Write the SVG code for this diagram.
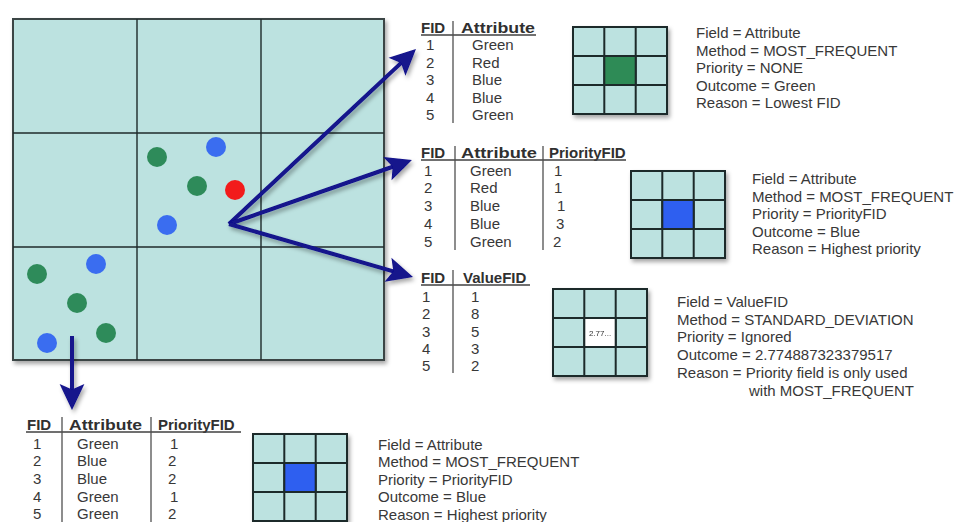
<svg xmlns="http://www.w3.org/2000/svg" xmlns:xlink="http://www.w3.org/1999/xlink" width="956" height="522" viewBox="0 0 956 522">
  <style>
    text { font-family: "Liberation Sans", Arial, sans-serif; font-size: 15px; fill: #383838; }
    .hd { font-weight: bold; fill: #303030; }
    .rule { stroke: #505050; stroke-width: 1.3; fill: none; }
    .uline { stroke: #404040; stroke-width: 1.3; }
    .cellfill { fill: #bce2e0; }
    .gridline { stroke: #1f2b2b; stroke-width: 2; fill: none; }
    .center { stroke: #1f2b2b; stroke-width: 2; }
    .c-green { fill: #2e8b57; }
    .c-blue { fill: #2d5ff0; }
    .c-white { fill: #ffffff; }
    .bigline { stroke: #1f2b2b; stroke-width: 1.4; fill: none; }
    .arrow { stroke: #12128c; stroke-width: 4; fill: none; marker-end: url(#head); }
    .dot-g { fill: #2e8b5a; }
    .dot-b { fill: #3a6df0; }
    .dot-r { fill: #f21b1b; }
  </style>
  <defs>
    <filter id="shadow" x="-10%" y="-10%" width="130%" height="130%">
      <feDropShadow dx="2" dy="3" stdDeviation="2" flood-color="#000" flood-opacity="0.35"/>
    </filter>
    <marker id="head" markerUnits="strokeWidth" markerWidth="6.5" markerHeight="6.2" refX="5" refY="3.1" orient="auto" overflow="visible">
      <path d="M0,0 L6.5,3.1 L0,6.2 L1.4,3.1 Z" fill="#12128c"/>
    </marker>
    <!-- 3x3 output cell grid -->
    <g id="cellgrid">
      <rect x="0" y="0" width="94" height="87" class="cellfill"/>
      <path class="gridline" d="M31.3,0 V87 M62.7,0 V87 M0,29 H94 M0,58 H94"/>
      <rect x="0" y="0" width="94" height="87" class="gridline"/>
    </g>
  </defs>

  <!-- input raster with points -->
  <g id="input-raster">
    <rect x="13" y="19" width="371" height="341" class="cellfill" stroke="#3a4444" stroke-width="2" filter="url(#shadow)"/>
    <path class="bigline" d="M137,19 V360 M261,19 V360 M13,133 H384 M13,247 H384"/>
    <circle class="dot-g" cx="157" cy="157" r="10"/>
    <circle class="dot-b" cx="216" cy="147" r="10"/>
    <circle class="dot-g" cx="197" cy="186" r="10"/>
    <circle class="dot-r" cx="235" cy="190" r="10"/>
    <circle class="dot-b" cx="167" cy="225" r="10"/>
    <circle class="dot-g" cx="37" cy="274" r="10"/>
    <circle class="dot-b" cx="96" cy="264" r="10"/>
    <circle class="dot-g" cx="77" cy="303" r="10"/>
    <circle class="dot-g" cx="106" cy="333" r="10"/>
    <circle class="dot-b" cx="47" cy="343" r="10"/>
  </g>

  <!-- connectors -->
  <g id="connectors" filter="url(#shadow)">
    <line class="arrow" x1="229" y1="224" x2="411.6" y2="53.1"/>
    <line class="arrow" x1="229" y1="224" x2="406.3" y2="162"/>
    <line class="arrow" x1="229" y1="224" x2="407.2" y2="275.3"/>
    <line class="arrow" x1="72" y1="336" x2="72" y2="404"/>
  </g>

  <!-- case 1: most frequent, no priority -->
  <g id="table-1">
    <text class="hd" x="421" y="33">FID</text>
    <text class="hd" x="461" y="33" textLength="74" lengthAdjust="spacingAndGlyphs">Attribute</text>
    <line class="uline" x1="421" y1="35" x2="536" y2="35"/>
    <line class="rule" x1="453" y1="21" x2="453" y2="123"/>
    <text x="426" y="50">1</text><text x="472" y="50">Green</text>
    <text x="426" y="67.5">2</text><text x="472" y="67.5">Red</text>
    <text x="426" y="85">3</text><text x="472" y="85">Blue</text>
    <text x="426" y="102.5">4</text><text x="472" y="102.5">Blue</text>
    <text x="426" y="120">5</text><text x="472" y="120">Green</text>
  </g>
  <g id="grid-1" filter="url(#shadow)">
    <use xlink:href="#cellgrid" x="573" y="27"/>
    <rect x="604.3" y="56" width="31.4" height="29" class="center c-green"/>
  </g>
  <g id="result-1">
    <text x="696" y="38">Field = Attribute</text>
    <text x="696" y="55.5">Method = MOST_FREQUENT</text>
    <text x="696" y="73">Priority = NONE</text>
    <text x="696" y="90.5">Outcome = Green</text>
    <text x="696" y="108">Reason = Lowest FID</text>
  </g>

  <!-- case 2: most frequent with priority -->
  <g id="table-2">
    <text class="hd" x="421" y="158">FID</text>
    <text class="hd" x="461" y="158" textLength="76" lengthAdjust="spacingAndGlyphs">Attribute</text>
    <text class="hd" x="549" y="158">PriorityFID</text>
    <line class="uline" x1="421" y1="160" x2="626" y2="160"/>
    <line class="rule" x1="455" y1="146" x2="455" y2="250"/>
    <line class="rule" x1="543" y1="146" x2="543" y2="250"/>
    <text x="424" y="175.5">1</text><text x="470" y="175.5">Green</text><text x="554" y="175.5">1</text>
    <text x="424" y="193.3">2</text><text x="470" y="193.3">Red</text><text x="554" y="193.3">1</text>
    <text x="424" y="211">3</text><text x="470" y="211">Blue</text><text x="557" y="211">1</text>
    <text x="424" y="228.8">4</text><text x="470" y="228.8">Blue</text><text x="556" y="228.8">3</text>
    <text x="424" y="246.5">5</text><text x="470" y="246.5">Green</text><text x="553" y="246.5">2</text>
  </g>
  <g id="grid-2" filter="url(#shadow)">
    <use xlink:href="#cellgrid" x="631" y="171"/>
    <rect x="662.3" y="200" width="31.4" height="29" class="center c-blue"/>
  </g>
  <g id="result-2">
    <text x="752" y="184">Field = Attribute</text>
    <text x="752" y="201.5">Method = MOST_FREQUENT</text>
    <text x="752" y="219">Priority = PriorityFID</text>
    <text x="752" y="236.5">Outcome = Blue</text>
    <text x="752" y="254">Reason = Highest priority</text>
  </g>

  <!-- case 3: standard deviation -->
  <g id="table-3">
    <text class="hd" x="421" y="283">FID</text>
    <text class="hd" x="463" y="283">ValueFID</text>
    <line class="uline" x1="421" y1="285" x2="530" y2="285"/>
    <line class="rule" x1="453" y1="270" x2="453" y2="373"/>
    <text x="422" y="301.5">1</text><text x="471" y="301.5">1</text>
    <text x="422" y="319">2</text><text x="471" y="319">8</text>
    <text x="422" y="336.5">3</text><text x="471" y="336.5">5</text>
    <text x="422" y="354">4</text><text x="471" y="354">3</text>
    <text x="422" y="371">5</text><text x="471" y="371">2</text>
  </g>
  <g id="grid-3" filter="url(#shadow)">
    <use xlink:href="#cellgrid" x="553" y="289"/>
    <rect x="584.3" y="318" width="31.4" height="29" class="center c-white"/>
    <text x="600" y="336" text-anchor="middle" style="font-size:8px;fill:#333">2.77...</text>
  </g>
  <g id="result-3">
    <text x="677" y="306.5">Field = ValueFID</text>
    <text x="677" y="324.5">Method = STANDARD_DEVIATION</text>
    <text x="677" y="342">Priority = Ignored</text>
    <text x="677" y="360">Outcome = 2.774887323379517</text>
    <text x="677" y="378">Reason = Priority field is only used</text>
    <text x="749" y="395.5">with MOST_FREQUENT</text>
  </g>

  <!-- case 4: lower-left cell, most frequent with priority -->
  <g id="table-4">
    <text class="hd" x="27" y="430">FID</text>
    <text class="hd" x="69" y="430" textLength="73" lengthAdjust="spacingAndGlyphs">Attribute</text>
    <text class="hd" x="158" y="430">PriorityFID</text>
    <line class="uline" x1="26" y1="432" x2="241" y2="432"/>
    <line class="rule" x1="62" y1="417" x2="62" y2="522"/>
    <line class="rule" x1="151" y1="417" x2="151" y2="522"/>
    <text x="33" y="448.5">1</text><text x="77" y="448.5">Green</text><text x="170" y="448.5">1</text>
    <text x="33" y="466">2</text><text x="77" y="466">Blue</text><text x="168" y="466">2</text>
    <text x="33" y="484">3</text><text x="77" y="484">Blue</text><text x="168" y="484">2</text>
    <text x="33" y="501.5">4</text><text x="77" y="501.5">Green</text><text x="170" y="501.5">1</text>
    <text x="33" y="519">5</text><text x="77" y="519">Green</text><text x="168" y="519">2</text>
  </g>
  <g id="grid-4" filter="url(#shadow)">
    <use xlink:href="#cellgrid" x="253" y="434"/>
    <rect x="284.3" y="463" width="31.4" height="29" class="center c-blue"/>
  </g>
  <g id="result-4">
    <text x="378" y="449.5">Field = Attribute</text>
    <text x="378" y="467">Method = MOST_FREQUENT</text>
    <text x="378" y="484.5">Priority = PriorityFID</text>
    <text x="378" y="502">Outcome = Blue</text>
    <text x="378" y="519.5">Reason = Highest priority</text>
  </g>
</svg>
